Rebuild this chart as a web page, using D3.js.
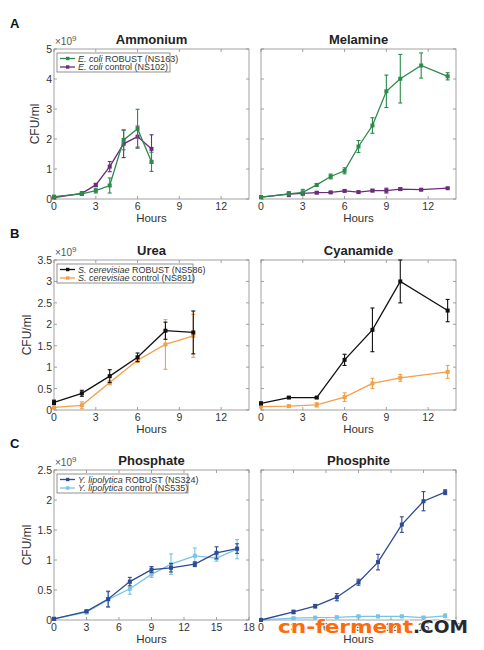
<!DOCTYPE html>
<html>
<head>
<meta charset="utf-8">
<script src="https://cdn.jsdelivr.net/npm/d3@7"></script>
<style>
  body { margin: 0; background: #fff; }
  svg { font-family: "Liberation Sans", Arial, sans-serif; }
</style>
</head>
<body>
<svg id="fig" width="484" height="650"></svg>
<script>
// ---- data (CFU/ml, x10^9) ----
var ammHours = [0, 2, 3, 4, 5, 6, 7];
var ammRobust = [0.08, 0.17, 0.28, 0.45, 1.97, 2.34, 1.24];
var ammRobustErr = [0.03, 0.04, 0.08, 0.25, 0.33, 0.65, 0.32];
var ammControl = [0.05, 0.19, 0.47, 1.08, 1.84, 2.08, 1.67];
var ammControlErr = [0.03, 0.04, 0.05, 0.17, 0.46, 0.35, 0.47];

var melHours = [0, 2, 3, 4, 5, 6, 7, 8, 9, 10, 11.5, 13.4];
var melRobust = [0.06, 0.17, 0.22, 0.47, 0.75, 0.94, 1.75, 2.45, 3.59, 4.01, 4.45, 4.09];
var melRobustErr = [0.02, 0.05, 0.1, 0.04, 0.08, 0.1, 0.2, 0.26, 0.54, 0.81, 0.42, 0.12];
var melControl = [0.06, 0.16, 0.19, 0.21, 0.22, 0.27, 0.23, 0.28, 0.28, 0.33, 0.31, 0.36];
var melControlErr = [0.02, 0.08, 0.04, 0.03, 0.03, 0.03, 0.03, 0.04, 0.08, 0.04, 0.03, 0.02];

var ureaHours = [0, 2, 4, 6, 8, 10];
var ureaRobust = [0.18, 0.39, 0.79, 1.23, 1.85, 1.81];
var ureaRobustErr = [0.05, 0.07, 0.15, 0.1, 0.2, 0.5];
var ureaControl = [0.06, 0.11, 0.64, 1.16, 1.53, 1.73];
var ureaControlErr = [0.03, 0.08, 0.05, 0.05, 0.58, 0.5];

var cyanHours = [0, 2, 4, 6, 8, 10, 13.4];
var cyanRobust = [0.155, 0.29, 0.29, 1.17, 1.87, 3.0, 2.32];
var cyanRobustErr = [0.03, 0.02, 0.02, 0.13, 0.51, 0.5, 0.26];
var cyanControl = [0.08, 0.09, 0.12, 0.3, 0.62, 0.75, 0.89];
var cyanControlErr = [0.02, 0.02, 0.05, 0.1, 0.12, 0.08, 0.15];

var phateHours = [0, 3, 5, 7, 9, 10.8, 13, 15, 16.9];
var phateRobust = [0.02, 0.145, 0.35, 0.64, 0.84, 0.87, 0.93, 1.12, 1.19];
var phateRobustErr = [0.02, 0.02, 0.13, 0.07, 0.05, 0.07, 0.04, 0.1, 0.08];
var phateControl = [0.02, 0.13, 0.34, 0.52, 0.76, 0.93, 1.07, 1.03, 1.18];
var phateControlErr = [0.02, 0.03, 0.13, 0.09, 0.05, 0.17, 0.13, 0.05, 0.16];

var phiteHours = [0, 3, 5, 7, 9, 10.8, 13, 15, 17];
var phiteRobust = [0.0, 0.134, 0.23, 0.38, 0.63, 0.965, 1.59, 1.98, 2.13];
var phiteRobustErr = [0.01, 0.03, 0.03, 0.06, 0.05, 0.13, 0.13, 0.16, 0.04];
var phiteControl = [0.0, 0.03, 0.04, 0.045, 0.06, 0.06, 0.06, 0.04, 0.07];
var phiteControlErr = [0.01, 0.01, 0.01, 0.02, 0.02, 0.02, 0.02, 0.02, 0.03];

var xTicks14 = [0, 3, 6, 9, 12];
var xTicks18 = [0, 3, 6, 9, 12, 15, 18];
var yTicksA = [0, 1, 2, 3, 4, 5];
var yTicksB = [0, 0.5, 1, 1.5, 2, 2.5, 3, 3.5];
var yTicksC = [0, 0.5, 1, 1.5, 2, 2.5];

var svg = d3.select('#fig');

/*************************** PANEL DRAWER *******************************/
var drawPanel = function(p) {
  var x = d3.scaleLinear().domain([0, p.xMax]).range([p.left, p.left + 195]);
  var y = d3.scaleLinear().domain([0, p.yMax]).range([p.top + 150, p.top]);
  var g = svg.append('g');
  var axisGrey = '#8a8a8a';

  // box
  g.append('rect')
    .attr('x', x(0)).attr('y', y(p.yMax))
    .attr('width', x(p.xMax) - x(0)).attr('height', y(0) - y(p.yMax))
    .attr('fill', 'none').attr('stroke', axisGrey).attr('stroke-width', 0.8);

  // ticks on all four sides, pointing inward (matlab style)
  var tick = 3;
  p.xTicks.forEach(function(t) {
    g.append('line').attr('x1', x(t)).attr('x2', x(t)).attr('y1', y(0)).attr('y2', y(0) - tick)
      .attr('stroke', axisGrey).attr('stroke-width', 0.8);
    g.append('line').attr('x1', x(t)).attr('x2', x(t)).attr('y1', y(p.yMax)).attr('y2', y(p.yMax) + tick)
      .attr('stroke', axisGrey).attr('stroke-width', 0.8);
    g.append('text').attr('x', x(t)).attr('y', y(0) + 11)
      .attr('text-anchor', 'middle').attr('font-size', 10.5).attr('fill', '#333').text(t);
  });
  p.yTicks.forEach(function(t) {
    g.append('line').attr('x1', x(0)).attr('x2', x(0) + tick).attr('y1', y(t)).attr('y2', y(t))
      .attr('stroke', axisGrey).attr('stroke-width', 0.8);
    g.append('line').attr('x1', x(p.xMax)).attr('x2', x(p.xMax) - tick).attr('y1', y(t)).attr('y2', y(t))
      .attr('stroke', axisGrey).attr('stroke-width', 0.8);
    if (p.yLabels) {
      g.append('text').attr('x', x(0) - 2).attr('y', y(t) + 4)
        .attr('text-anchor', 'end').attr('font-size', 10.5).attr('fill', '#333').text(t);
    }
  });

  if (p.yLabels) {
    var ex = g.append('text').attr('x', x(0) + 1).attr('y', y(p.yMax) - 4)
      .attr('font-size', 10).attr('fill', '#555');
    ex.append('tspan').text('\u00d710');
    ex.append('tspan').attr('dy', -4).attr('font-size', 8).text('9');
    g.append('text')
      .attr('transform', 'translate(' + (x(0) - p.ylabOffset) + ',' + ((y(0) + y(p.yMax)) / 2) + ') rotate(-90)')
      .attr('text-anchor', 'middle').attr('font-size', 12).attr('fill', '#333').text('CFU/ml');
  }

  g.append('text').attr('x', (x(0) + x(p.xMax)) / 2).attr('y', y(p.yMax) - 5)
    .attr('text-anchor', 'middle').attr('font-size', 13).attr('font-weight', 'bold')
    .attr('fill', '#222').text(p.title);
  g.append('text').attr('x', (x(0) + x(p.xMax)) / 2).attr('y', y(0) + 23)
    .attr('text-anchor', 'middle').attr('font-size', 11.5).attr('fill', '#333').text('Hours');

  // series: control first, robust on top
  p.series.forEach(function(s) {
    var pts = s.hours.map(function(h, i) { return {h: h, v: s.values[i], e: s.err[i]}; });
    var line = d3.line().x(function(d) { return x(d.h); }).y(function(d) { return y(d.v); });
    g.append('path').datum(pts).attr('d', line)
      .attr('fill', 'none').attr('stroke', s.color).attr('stroke-width', 1.3);
    pts.forEach(function(d) {
      var top = Math.min(d.v + d.e, p.yMax);
      g.append('line').attr('x1', x(d.h)).attr('x2', x(d.h))
        .attr('y1', y(d.v - d.e)).attr('y2', y(top))
        .attr('stroke', s.color).attr('stroke-width', 1.1);
      [d.v - d.e, top].forEach(function(c) {
        g.append('line').attr('x1', x(d.h) - 2).attr('x2', x(d.h) + 2)
          .attr('y1', y(c)).attr('y2', y(c))
          .attr('stroke', s.color).attr('stroke-width', 1.1);
      });
      g.append('rect').attr('x', x(d.h) - 2).attr('y', y(d.v) - 2)
        .attr('width', 4).attr('height', 4).attr('fill', s.color);
    });
  });

  // legend
  if (p.legend) {
    var lg = g.append('g');
    lg.append('rect').attr('x', x(0) + 3).attr('y', y(p.yMax) + 4)
      .attr('width', p.legend.width).attr('height', 19)
      .attr('fill', '#fff').attr('stroke', '#777').attr('stroke-width', 0.8);
    p.legend.items.forEach(function(it, i) {
      var ly = y(p.yMax) + 9.5 + i * 8.5;
      lg.append('line').attr('x1', x(0) + 6).attr('x2', x(0) + 21).attr('y1', ly).attr('y2', ly)
        .attr('stroke', it.color).attr('stroke-width', 1.3);
      lg.append('rect').attr('x', x(0) + 12).attr('y', ly - 1.7).attr('width', 3.4).attr('height', 3.4)
        .attr('fill', it.color);
      var tx = lg.append('text').attr('x', x(0) + 24).attr('y', ly + 3)
        .attr('font-size', 9).attr('fill', '#333');
      tx.append('tspan').attr('font-style', 'italic').text(it.species);
      tx.append('tspan').text(' ' + it.rest);
    });
  }
};

var green = '#2b8a4c', purple = '#6b2c7c', black = '#111111', orange = '#f2a04a',
    navy = '#2d4a92', sky = '#78c4e6';

drawPanel({ left: 54, top: 49, xMax: 14, yMax: 5, xTicks: xTicks14, yTicks: yTicksA, yLabels: true,
  ylabOffset: 15, title: 'Ammonium',
  series: [
    {hours: ammHours, values: ammControl, err: ammControlErr, color: purple},
    {hours: ammHours, values: ammRobust, err: ammRobustErr, color: green}],
  legend: {width: 113, items: [
    {color: green, species: 'E. coli', rest: 'ROBUST (NS163)'},
    {color: purple, species: 'E. coli', rest: 'control (NS102)'}]}
});
drawPanel({ left: 261, top: 49, xMax: 14, yMax: 5, xTicks: xTicks14, yTicks: yTicksA, yLabels: false,
  title: 'Melamine',
  series: [
    {hours: melHours, values: melControl, err: melControlErr, color: purple},
    {hours: melHours, values: melRobust, err: melRobustErr, color: green}]
});
drawPanel({ left: 54, top: 260, xMax: 14, yMax: 3.5, xTicks: xTicks14, yTicks: yTicksB, yLabels: true,
  ylabOffset: 23, title: 'Urea',
  series: [
    {hours: ureaHours, values: ureaControl, err: ureaControlErr, color: orange},
    {hours: ureaHours, values: ureaRobust, err: ureaRobustErr, color: black}],
  legend: {width: 136, items: [
    {color: black, species: 'S. cerevisiae', rest: 'ROBUST (NS586)'},
    {color: orange, species: 'S. cerevisiae', rest: 'control (NS891)'}]}
});
drawPanel({ left: 261, top: 260, xMax: 14, yMax: 3.5, xTicks: xTicks14, yTicks: yTicksB, yLabels: false,
  title: 'Cyanamide',
  series: [
    {hours: cyanHours, values: cyanControl, err: cyanControlErr, color: orange},
    {hours: cyanHours, values: cyanRobust, err: cyanRobustErr, color: black}]
});
drawPanel({ left: 54, top: 470, xMax: 18, yMax: 2.5, xTicks: xTicks18, yTicks: yTicksC, yLabels: true,
  ylabOffset: 23, title: 'Phosphate',
  series: [
    {hours: phateHours, values: phateControl, err: phateControlErr, color: sky},
    {hours: phateHours, values: phateRobust, err: phateRobustErr, color: navy}],
  legend: {width: 131, items: [
    {color: navy, species: 'Y. lipolytica', rest: 'ROBUST (NS324)'},
    {color: sky, species: 'Y. lipolytica', rest: 'control (NS535)'}]}
});
drawPanel({ left: 261, top: 470, xMax: 18, yMax: 2.5, xTicks: xTicks18, yTicks: yTicksC, yLabels: false,
  title: 'Phosphite',
  series: [
    {hours: phiteHours, values: phiteControl, err: phiteControlErr, color: sky},
    {hours: phiteHours, values: phiteRobust, err: phiteRobustErr, color: navy}]
});

// panel letters
[['A', 28], ['B', 238], ['C', 448]].forEach(function(l) {
  svg.append('text').attr('x', 10).attr('y', l[1]).attr('font-size', 13)
    .attr('font-weight', 'bold').attr('fill', '#111').text(l[0]);
});

// watermark over the bottom right panel
svg.append('text').attr('x', 278).attr('y', 633)
  .attr('font-family', 'DejaVu Sans').attr('font-weight', 'bold').attr('font-size', 17)
  .attr('textLength', 135).attr('lengthAdjust', 'spacingAndGlyphs')
  .attr('fill', '#ff6a0a').attr('stroke', '#fff').attr('stroke-width', 1.5)
  .attr('paint-order', 'stroke').text('cn-ferment');
svg.append('text').attr('x', 413).attr('y', 633)
  .attr('font-family', 'DejaVu Sans').attr('font-weight', 'bold').attr('font-size', 17)
  .attr('textLength', 55).attr('lengthAdjust', 'spacingAndGlyphs')
  .attr('fill', '#2a2a2a').attr('stroke', '#fff').attr('stroke-width', 1.5)
  .attr('paint-order', 'stroke').text('.COM');
</script>
</body>
</html>
